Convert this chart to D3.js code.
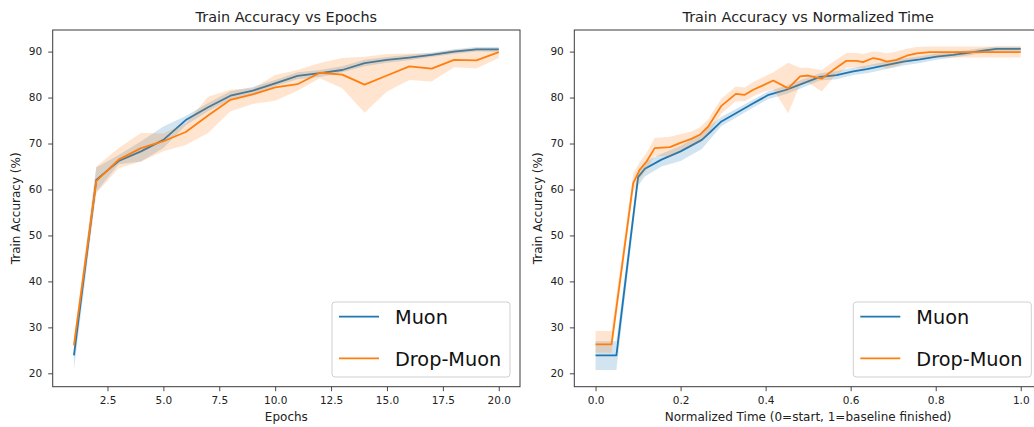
<!DOCTYPE html>
<html><head><meta charset="utf-8">
<script src="https://cdn.jsdelivr.net/npm/d3@7"></script>
<style>
html,body{margin:0;padding:0;background:#fff;}
svg{display:block;font-family:"DejaVu Sans",sans-serif;}
</style></head>
<body><svg id="c" width="1034" height="427"></svg>
<script>
// ---- Data ----
const epochs = [1,2,3,4,5,6,7,8,9,10,11,12,13,14,15,16,17,18,19,20];
const muonEpochMean = [23.9,62.1,66.2,68.3,70.8,75.1,77.9,80.4,81.5,83.1,84.7,85.3,86.0,87.5,88.2,88.7,89.3,90.0,90.5,90.5];
const muonEpochLow  = [20.8,59.5,65.5,66.1,69.0,74.0,77.0,79.5,80.8,82.5,84.0,84.5,85.5,86.8,87.6,88.1,88.8,89.5,90.0,89.9];
const muonEpochHigh = [26.8,64.8,67.5,70.5,73.7,76.0,78.8,81.4,82.3,83.8,85.5,86.0,86.8,88.2,88.8,89.3,89.8,90.5,91.0,91.0];
const dropEpochMean = [26.1,61.8,66.5,69.0,70.5,72.5,76.1,79.5,80.7,82.2,82.9,85.4,85.0,82.8,84.8,86.8,86.3,88.2,88.1,89.9];
const dropEpochLow  = [24.6,59.2,64.6,66.1,68.3,69.7,72.3,77.0,78.6,79.3,81.5,84.2,82.0,76.7,81.3,83.8,83.5,86.6,86.3,88.6];
const dropEpochHigh = [27.6,65.0,69.0,72.3,72.2,74.4,80.2,81.7,82.0,84.9,86.0,87.5,88.6,88.9,89.5,89.6,89.6,90.4,90.7,90.7];

const muonTime     = [0,0.049,0.100,0.116,0.155,0.2,0.25,0.27,0.296,0.33,0.37,0.407,0.449,0.488,0.528,0.567,0.606,0.638,0.669,0.724,0.763,0.802,0.841,0.88,0.912,0.943,1.0];
const muonTimeMean = [23.9,23.9,62.7,64.5,66.5,68.3,70.8,72.5,74.8,76.6,78.7,80.6,81.7,83.1,84.5,84.9,85.7,86.2,86.8,87.8,88.3,88.9,89.3,89.8,90.2,90.6,90.6];
const muonTimeLow  = [20.7,20.7,60.8,62.8,65.0,66.2,68.8,71.0,73.8,75.6,77.8,79.7,80.8,82.2,83.7,84.0,84.9,85.3,85.9,87.0,87.5,88.2,88.7,89.2,89.7,90.0,90.0];
const muonTimeHigh = [27.0,27.0,64.2,66.0,67.8,69.5,72.2,74.0,75.8,77.5,79.5,81.4,82.6,84.0,85.3,85.8,86.5,87.0,87.6,88.5,89.0,89.6,89.9,90.4,90.8,91.1,91.1];

const dropTime     = [0,0.0375,0.0885,0.104,0.12,0.139,0.175,0.198,0.225,0.245,0.265,0.296,0.33,0.351,0.371,0.395,0.418,0.453,0.481,0.5,0.532,0.559,0.59,0.614,0.629,0.653,0.669,0.685,0.708,0.732,0.755,0.786,1.0];
const dropTimeMean = [26.3,26.3,61.4,64.3,66.1,69.0,69.2,70.1,71.0,71.9,73.7,78.2,80.8,80.6,81.7,82.7,83.7,82.0,84.6,84.8,84.1,86.0,88.0,88.0,87.7,88.6,88.3,87.8,88.2,89.1,89.6,89.9,89.9];
const dropTimeLow  = [24.5,24.5,59.5,62.3,64.3,67.3,67.2,68.3,69.5,70.3,72.0,76.5,79.2,79.2,80.3,81.2,81.8,76.6,82.8,83.2,81.3,84.3,86.5,86.6,86.3,87.0,86.8,86.3,86.8,87.8,88.4,88.7,88.7];
const dropTimeHigh = [29.2,29.2,63.5,66.0,68.0,71.2,71.5,72.0,72.6,73.5,75.3,79.8,82.4,82.2,83.4,84.5,85.5,87.6,86.5,86.5,86.0,87.8,89.7,89.7,89.5,90.0,89.9,89.6,90.0,90.6,91.0,91.1,91.1];

const yTicks = [20,30,40,50,60,70,80,90];
const epochTicks = [2.5,5.0,7.5,10.0,12.5,15.0,17.5,20.0];
const timeTicks = [0.0,0.2,0.4,0.6,0.8,1.0];
const seriesNames = ["Muon","Drop-Muon"];
const colors = ["#1f77b4","#ff7f0e"];

// ---- Drawing ----
const svg = d3.select("#c");
const plotTop = 30, plotBottom = 386.7;

function panel(opts){
  const g = svg.append("g");
  const x = d3.scaleLinear().domain(opts.xDomain).range([opts.left, opts.right]);
  const y = d3.scaleLinear().domain([17.09, 94.7]).range([plotBottom, plotTop]);
  const clipId = "clip" + opts.id;
  svg.append("clipPath").attr("id", clipId).append("rect")
    .attr("x", opts.left).attr("y", plotTop).attr("width", opts.right-opts.left).attr("height", plotBottom-plotTop);
  const plot = g.append("g").attr("clip-path", `url(#${clipId})`);
  opts.series.forEach((s,i)=>{
    const pts = s.x.map((xv,k)=>({x:xv, m:s.mean[k], lo:s.low[k], hi:s.high[k]}));
    plot.append("path").datum(pts)
      .attr("fill","none").attr("stroke", colors[i]).attr("stroke-width", 1.8)
      .attr("stroke-linejoin","round")
      .attr("d", d3.line().x(d=>x(d.x)).y(d=>y(d.m)));
    plot.append("path").datum(pts)
      .attr("fill", colors[i]).attr("fill-opacity", 0.2).attr("stroke","none")
      .attr("d", d3.area().x(d=>x(d.x)).y0(d=>y(d.lo)).y1(d=>y(d.hi)));
  });
  // axes
  const xa = g.append("g").attr("transform", `translate(0,${plotBottom})`)
    .call(d3.axisBottom(x).tickValues(opts.xTicks).tickFormat(d3.format(".1f")).tickSize(4.5).tickPadding(5.5));
  const ya = g.append("g").attr("transform", `translate(${opts.left},0)`)
    .call(d3.axisLeft(y).tickValues(yTicks).tickFormat(d3.format("d")).tickSize(4.5).tickPadding(6));
  [xa,ya].forEach(a=>{
    a.select(".domain").remove();
    a.selectAll("line").attr("stroke","#333").attr("stroke-width",0.9);
    a.selectAll("text").attr("fill","#222").style("font-size","10.5px").style("font-family","DejaVu Sans");
  });
  // frame
  g.append("rect").attr("x", opts.left).attr("y", plotTop)
    .attr("width", opts.right-opts.left).attr("height", plotBottom-plotTop)
    .attr("fill","none").attr("stroke","#3a3a3a").attr("stroke-width",1);
  const cx = (opts.left+opts.right)/2;
  g.append("text").attr("x", cx).attr("y", 22).attr("text-anchor","middle")
    .style("font-size","14.4px").attr("fill","#222").text(opts.title);
  g.append("text").attr("x", cx).attr("y", 421).attr("text-anchor","middle")
    .style("font-size","12px").attr("fill","#222").text(opts.xLabel);
  g.append("text").attr("transform", `translate(${opts.left-37},${(plotTop+plotBottom)/2}) rotate(-90)`)
    .attr("text-anchor","middle").attr("dy","0.35em")
    .style("font-size","12px").attr("fill","#222").text("Train Accuracy (%)");
  // legend
  const lg = g.append("g");
  lg.append("rect").attr("x", opts.legendX).attr("y", 302).attr("width", 178).attr("height", 75)
    .attr("rx", 3).attr("fill","#fff").attr("fill-opacity",0.8).attr("stroke","#d0d0d0").attr("stroke-width",1);
  seriesNames.forEach((n,i)=>{
    const ly = i===0 ? 316.7 : 358.3;
    lg.append("line").attr("x1", opts.legendX+7).attr("x2", opts.legendX+47)
      .attr("y1", ly).attr("y2", ly).attr("stroke", colors[i]).attr("stroke-width",1.8);
    lg.append("text").attr("x", opts.legendX+63).attr("y", ly+7.6)
      .style("font-size","19.3px").attr("fill","#111").text(n);
  });
}

panel({id:1, left:52.7, right:520, xDomain:[0.05,20.95], xTicks:epochTicks,
  title:"Train Accuracy vs Epochs", xLabel:"Epochs", legendX:332,
  series:[
    {x:epochs, mean:muonEpochMean, low:muonEpochLow, high:muonEpochHigh},
    {x:epochs, mean:dropEpochMean, low:dropEpochLow, high:dropEpochHigh}
  ]});
panel({id:2, left:574.3, right:1042, xDomain:[-0.05,1.05], xTicks:timeTicks,
  title:"Train Accuracy vs Normalized Time", xLabel:"Normalized Time (0=start, 1=baseline finished)", legendX:853.3,
  series:[
    {x:muonTime, mean:muonTimeMean, low:muonTimeLow, high:muonTimeHigh},
    {x:dropTime, mean:dropTimeMean, low:dropTimeLow, high:dropTimeHigh}
  ]});
</script></body></html>
